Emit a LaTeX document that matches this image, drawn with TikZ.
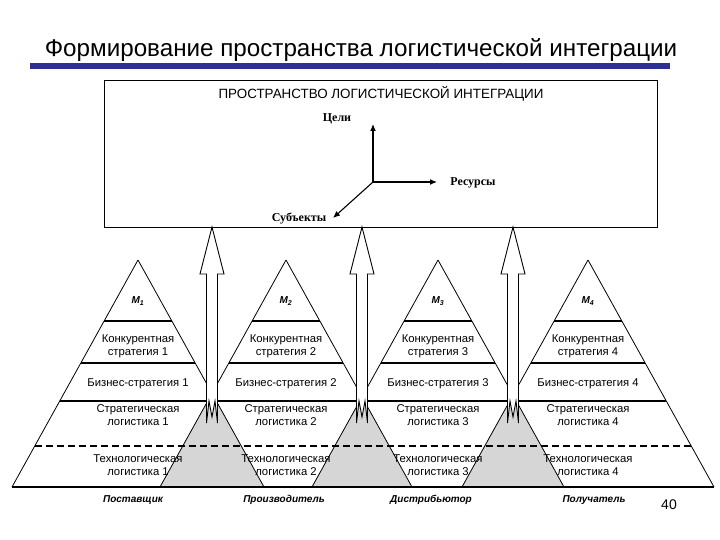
\documentclass[tikz,border=0pt]{standalone}
\usepackage{fontspec}
\setmainfont{Liberation Sans}
\newfontfamily\timesfont{Liberation Serif}
\usetikzlibrary{arrows.meta}
\definecolor{titleblue}{RGB}{46,49,146}
\definecolor{overlapgray}{RGB}{214,214,214}
\tikzset{
    layertext/.style={align=center, inner sep=0pt, font=\fontsize{11.3}{13}\selectfont},
    mlabel/.style={inner sep=0pt, font=\fontsize{10}{12}\selectfont\bfseries\itshape},
    partner/.style={inner sep=0pt, font=\fontsize{10}{12}\selectfont\bfseries\itshape},
    axislabel/.style={inner sep=0pt, font=\timesfont\fontsize{12}{13}\selectfont\bfseries},
    axis/.style={line width=1.1pt, -{Latex[length=7pt,width=6pt]}},
    level/.style={line width=1.4pt},
    edge/.style={line width=0.8pt},
    bigarrow/.style={draw, fill=white, line width=0.9pt},
}
\begin{document}
\begin{tikzpicture}[x=1pt, y=-1pt]
    \useasboundingbox (0,0) rectangle (720,540);

    % Title and the blue bar under it
    \node (title) at (361,50) {\fontsize{24.2}{27}\selectfont Формирование пространства логистической интеграции};
    \fill[titleblue] (30,63) rectangle (670,69);

    % The box of the integration space
    \draw[line width=0.9pt] (104,80) rectangle (657,227);
    \node (spacetitle) at (381,94) {\fontsize{13.4}{15}\selectfont ПРОСТРАНСТВО ЛОГИСТИЧЕСКОЙ ИНТЕГРАЦИИ};

    % Axes
    \coordinate (origin) at (373,182);
    \coordinate (goals) at (373,124);
    \coordinate (resources) at (437,182);
    \coordinate (subjects) at (333,218);
    \draw[axis] (origin) -- (goals);
    \draw[axis] (origin) -- (resources);
    \draw[axis] (origin) -- (subjects);
    \node[axislabel] (goalslabel) at (337,119) {Цели};
    \node[axislabel] (reslabel) at (473,183) {Ресурсы};
    \node[axislabel] (subjlabel) at (299,219) {Субъекты};

    % Grey overlaps between neighbouring pyramids
    \fill[overlapgray] (212,393.3) -- (160,487) -- (264,487) -- cycle;
    \fill[overlapgray] (362,396.9) -- (312,487) -- (412,487) -- cycle;
    \fill[overlapgray] (513,395.1) -- (462,487) -- (564,487) -- cycle;

    % Pyramids
    \foreach \x in {138,286,438,588} {
        \draw[edge] (\x,260) -- (\x-126,487);
        \draw[edge] (\x,260) -- (\x+126,487);
        \draw[level] (\x-33.9,321) -- (\x+33.9,321);
        \draw[level] (\x-57.2,363) -- (\x+57.2,363);
    }

    % Common levels and the base
    \draw[level] (59.7,401) -- (666.3,401);
    \draw[level, dash pattern=on 7pt off 4pt] (34.8,446) -- (691.2,446);
    \draw[level] (12,487) -- (714,487);

    % Arrows up to the space
    \foreach \c in {212,362,513} {
        \draw[bigarrow] (\c-5.5,423) -- (\c-5.5,274) -- (\c-12,274) -- (\c,227)
            -- (\c+12,274) -- (\c+5.5,274) -- (\c+5.5,423) -- (\c+3,401)
            -- (\c,417) -- (\c-3,401) -- cycle;
    }

    % Labels inside each pyramid
    \foreach \x [count=\n] in {138,286,438,588} {
        \node[mlabel] (m\n) at (\x,301) {M\textsubscript{\n}};
        \node[layertext] (comp\n) at (\x,346) {Конкурентная\\стратегия \n};
        \node[layertext] (bus\n) at (\x,384) {Бизнес-стратегия \n};
        \node[layertext] (strat\n) at (\x,415) {Стратегическая\\логистика \n};
        \node[layertext] (tech\n) at (\x,465) {Технологическая\\логистика \n};
    }

    % Partners under the base
    \node[partner] (supplier) at (133,500) {Поставщик};
    \node[partner] (producer) at (284,500) {Производитель};
    \node[partner] (distributor) at (431,500) {Дистрибьютор};
    \node[partner] (receiver) at (594,500) {Получатель};

    % Page number
    \node (page) at (669,505) {\fontsize{14}{16}\selectfont 40};

\end{tikzpicture}
\end{document}
